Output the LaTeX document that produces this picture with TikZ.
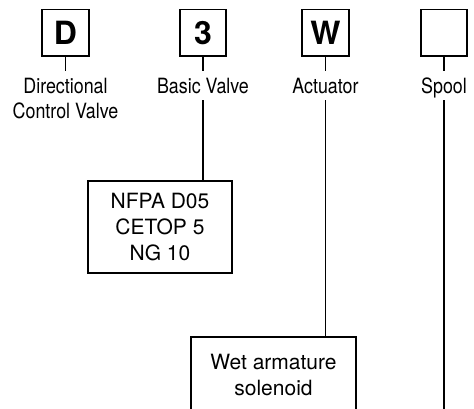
\documentclass[tikz,border=0pt]{standalone}
\usepackage{fontspec}
\setmainfont{TeX Gyre Heros}
\newfontfamily\condfont[FakeStretch=0.85]{TeX Gyre Heros}

\begin{document}
\begin{tikzpicture}[x=1pt, y=-1pt, line width=1.6pt,
        code/.style={draw, minimum size=46.5pt, inner sep=0pt, font=\fontsize{32}{36}\selectfont\bfseries},
        field/.style={inner xsep=0pt, inner ysep=6pt, align=center, font=\condfont\fontsize{21}{25}\selectfont},
        fieldline/.style={field, text height=15pt, text depth=0pt},
        choice/.style={draw, align=center, inner sep=0pt, font=\fontsize{21}{26}\selectfont}]
                \useasboundingbox (0,0) rectangle (474,409);

                \node[code] (dBox) at (65.5,32.7) {D};
                \node[code] (vBox) at (203,32.7) {3};
                \node[code] (aBox) at (325.5,32.7) {W};
                \node[code] (sBox) at (444,32.7) {};

                \node[field, anchor=base] (dLbl) at (65.5,118.3) {Directional\\Control Valve};
                \node[fieldline, anchor=base] (vLbl) at (203,93.3) {Basic Valve};
                \node[fieldline, anchor=base] (aLbl) at (325.5,93.3) {Actuator};
                \node[fieldline, anchor=base] (sLbl) at (444,93.3) {Spool};

                \node[choice, minimum width=144pt, minimum height=92pt] (nfpa) at (160,227) {NFPA D05\\CETOP 5\\NG 10};
                \node[choice, minimum width=165pt, minimum height=75.4pt] (wet) at (273.5,374.7) {Wet armature\\solenoid};
                \coordinate (sEnd) at (444,415);

                \draw (dBox.south) -- (dLbl.north);
                \draw (vBox.south) -- (vLbl.north);
                \draw (aBox.south) -- (aLbl.north);
                \draw (sBox.south) -- (sLbl.north);

                \draw (vLbl.south) -- (vLbl.south |- nfpa.north);
                \draw (aLbl.south) -- (aLbl.south |- wet.north);
                \draw (sLbl.south) -- (sEnd);
\end{tikzpicture}
\end{document}
